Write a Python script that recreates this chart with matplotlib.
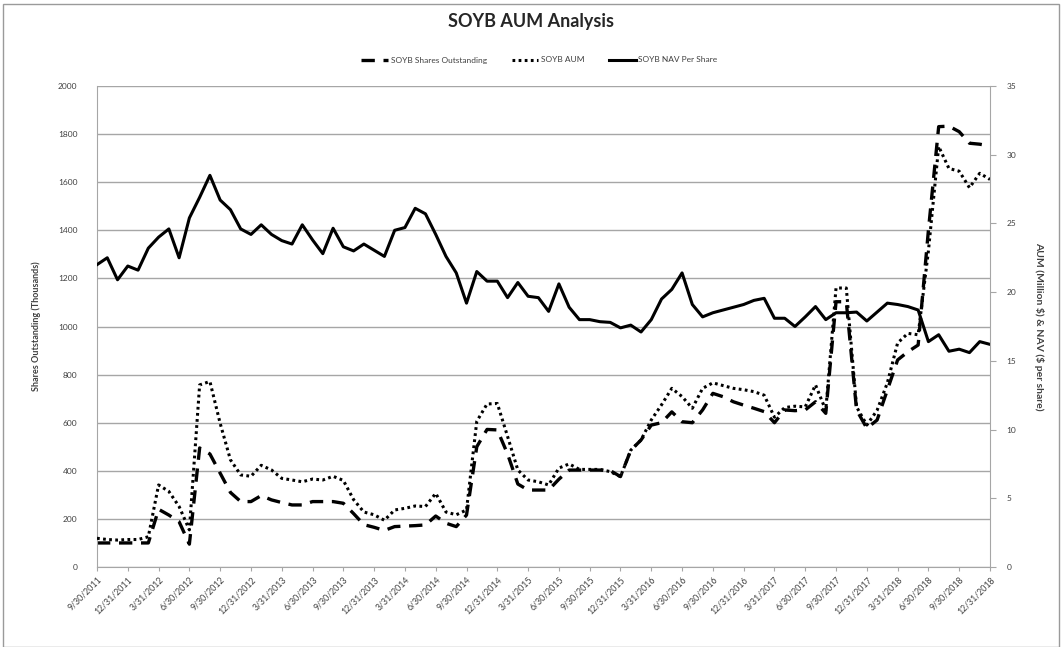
import matplotlib
matplotlib.use("Agg")
import matplotlib.pyplot as plt
import numpy as np
from matplotlib.patches import Rectangle

tick_labels = ["9/30/2011", "12/31/2011",
               "3/31/2012", "6/30/2012", "9/30/2012", "12/31/2012",
               "3/31/2013", "6/30/2013", "9/30/2013", "12/31/2013",
               "3/31/2014", "6/30/2014", "9/30/2014", "12/31/2014",
               "3/31/2015", "6/30/2015", "9/30/2015", "12/31/2015",
               "3/31/2016", "6/30/2016", "9/30/2016", "12/31/2016",
               "3/31/2017", "6/30/2017", "9/30/2017", "12/31/2017",
               "3/31/2018", "6/30/2018", "9/30/2018", "12/31/2018"]

shares = [100, 100, 100, 100, 100, 100, 240, 216, 188, 95,
          495, 470, 390, 310, 272, 272, 297, 279, 268, 258,
          258, 272, 272, 272, 265, 222, 176, 165, 152, 168,
          170, 172, 175, 212, 182, 168, 216, 500, 572, 570,
          470, 345, 320, 320, 320, 365, 403, 403, 403, 403,
          401, 376, 485, 528, 590, 600, 645, 604, 600, 653,
          722, 708, 687, 673, 660, 646, 600, 653, 650, 653,
          687, 639, 1103, 1103, 653, 577, 611, 736, 861, 895,
          923, 1400, 1831, 1833, 1810, 1762, 1758, 1750]

aum = [2.09, 2.0, 1.96, 2.0, 2.0, 2.2, 5.97, 5.5, 4.4, 2.7,
       13.25, 13.5, 10.45, 7.8, 6.7, 6.6, 7.4, 7.06, 6.45, 6.33,
       6.2, 6.4, 6.33, 6.6, 6.3, 4.9, 4.0, 3.8, 3.4, 4.15,
       4.27, 4.44, 4.4, 5.36, 4.0, 3.8, 4.15, 10.6, 11.86, 11.9,
       9.5, 7.06, 6.33, 6.2, 5.97, 7.2, 7.5, 7.1, 7.1, 7.1,
       6.94, 6.57, 8.5, 9.24, 10.7, 11.8, 13.0, 12.4, 11.55, 13.0,
       13.4, 13.2, 13.0, 12.9, 12.76, 12.5, 10.9, 11.6, 11.7, 11.65,
       13.25, 11.4, 20.3, 20.3, 11.65, 10.33, 11.4, 13.4, 16.3, 17.0,
       16.9, 23.0, 30.6, 29.0, 28.8, 27.6, 28.65, 28.2]

nav = [22.0, 22.5, 20.9, 21.9, 21.6, 23.2, 24.0, 24.6, 22.5, 25.4,
       26.9, 28.5, 26.7, 26.0, 24.6, 24.2, 24.9, 24.2, 23.75, 23.5,
       24.9, 23.8, 22.8, 24.65, 23.3, 23.0, 23.5, 23.05, 22.6, 24.5,
       24.7, 26.1, 25.7, 24.2, 22.6, 21.4, 19.2, 21.5, 20.8, 20.8,
       19.6, 20.7, 19.7, 19.6, 18.6, 20.6, 18.9, 18.0, 18.0, 17.85,
       17.8, 17.4, 17.6, 17.1, 18.0, 19.5, 20.2, 21.4, 19.1, 18.2,
       18.5, 18.7, 18.9, 19.1, 19.4, 19.55, 18.1, 18.1, 17.5, 18.2,
       18.95, 18.0, 18.5, 18.5, 18.55, 17.9, 18.55, 19.2, 19.1, 18.95,
       18.7, 16.4, 16.9, 15.7, 15.85, 15.6, 16.4, 16.2]

plt.rcParams['font.family'] = ['Lato', 'DejaVu Sans']

W, H = 1062, 647
fig = plt.figure(figsize=(W / 100, H / 100), dpi=100)
fig.patches.append(Rectangle((3 / W, 0.0), 1 - 6 / W, 1 - 4 / H, transform=fig.transFigure,
                             fill=False, edgecolor='#9a9a9a', linewidth=1.0))

ax = fig.add_axes([97 / W, 1 - 567 / H, (990 - 97) / W, (567 - 86) / H])
ax2 = ax.twinx()

x = np.arange(len(nav))
txt = '#404040'
grid_c = '#a6a6a6'

ax.set_xlim(0, len(nav) - 1)
ax.set_ylim(0, 2000)
ax.set_yticks(np.arange(0, 2001, 200))
ax.yaxis.grid(True, color=grid_c, linewidth=1.0)
ax.set_axisbelow(True)
ax.tick_params(axis='y', length=0, labelsize=6, colors=txt, pad=14)
ax.set_xticks(x[::3])
ax.set_xticklabels(tick_labels, rotation=45, ha='right', rotation_mode='anchor',
                   fontsize=6.3, color=txt)
ax.tick_params(axis='x', length=3, color=grid_c, pad=3)

ax2.set_ylim(0, 35)
ax2.set_yticks(np.arange(0, 36, 5))
ax2.tick_params(axis='y', length=4, color=grid_c, labelsize=6, colors=txt, pad=8)
for s in ['top']:
    ax.spines[s].set_visible(False)
    ax2.spines[s].set_visible(False)
ax.spines['right'].set_visible(False)
ax2.spines['left'].set_visible(False)
ax.spines['left'].set_color(grid_c)
ax.spines['bottom'].set_color(grid_c)
ax2.spines['right'].set_color(grid_c)
ax2.spines['bottom'].set_visible(False)

l1, = ax.plot(x, shares, color='black', linewidth=2.4, linestyle=(0, (4, 2.6)),
              label='SOYB Shares Outstanding')
l2, = ax2.plot(x, aum, color='black', linewidth=2.2, linestyle=(0, (0.9, 1.1)),
               label='SOYB AUM')
l3, = ax2.plot(x, nav, color='black', linewidth=2.2, linestyle='-',
               label='SOYB NAV Per Share')

ax.set_ylabel('Shares Outstanding (Thousands)', fontsize=6.5, fontweight='bold',
              color=txt, labelpad=12)
ax2.set_ylabel('AUM (Million \\$) & NAV (\\$ per share)', fontsize=7.5, fontweight='bold',
               color=txt, rotation=270, labelpad=20)

fig.text(0.5, 1 - 22 / H, 'SOYB AUM Analysis', ha='center', va='center',
         fontsize=13, fontweight='bold', color='#262626')

fig.legend(handles=[l1, l2, l3], loc='center', bbox_to_anchor=(0.508, 1 - 60 / H),
           ncol=3, frameon=False, fontsize=6, handlelength=3.2, columnspacing=3.0,
           handletextpad=0.3, labelcolor=txt)

fig.savefig('out.png', dpi=100)
